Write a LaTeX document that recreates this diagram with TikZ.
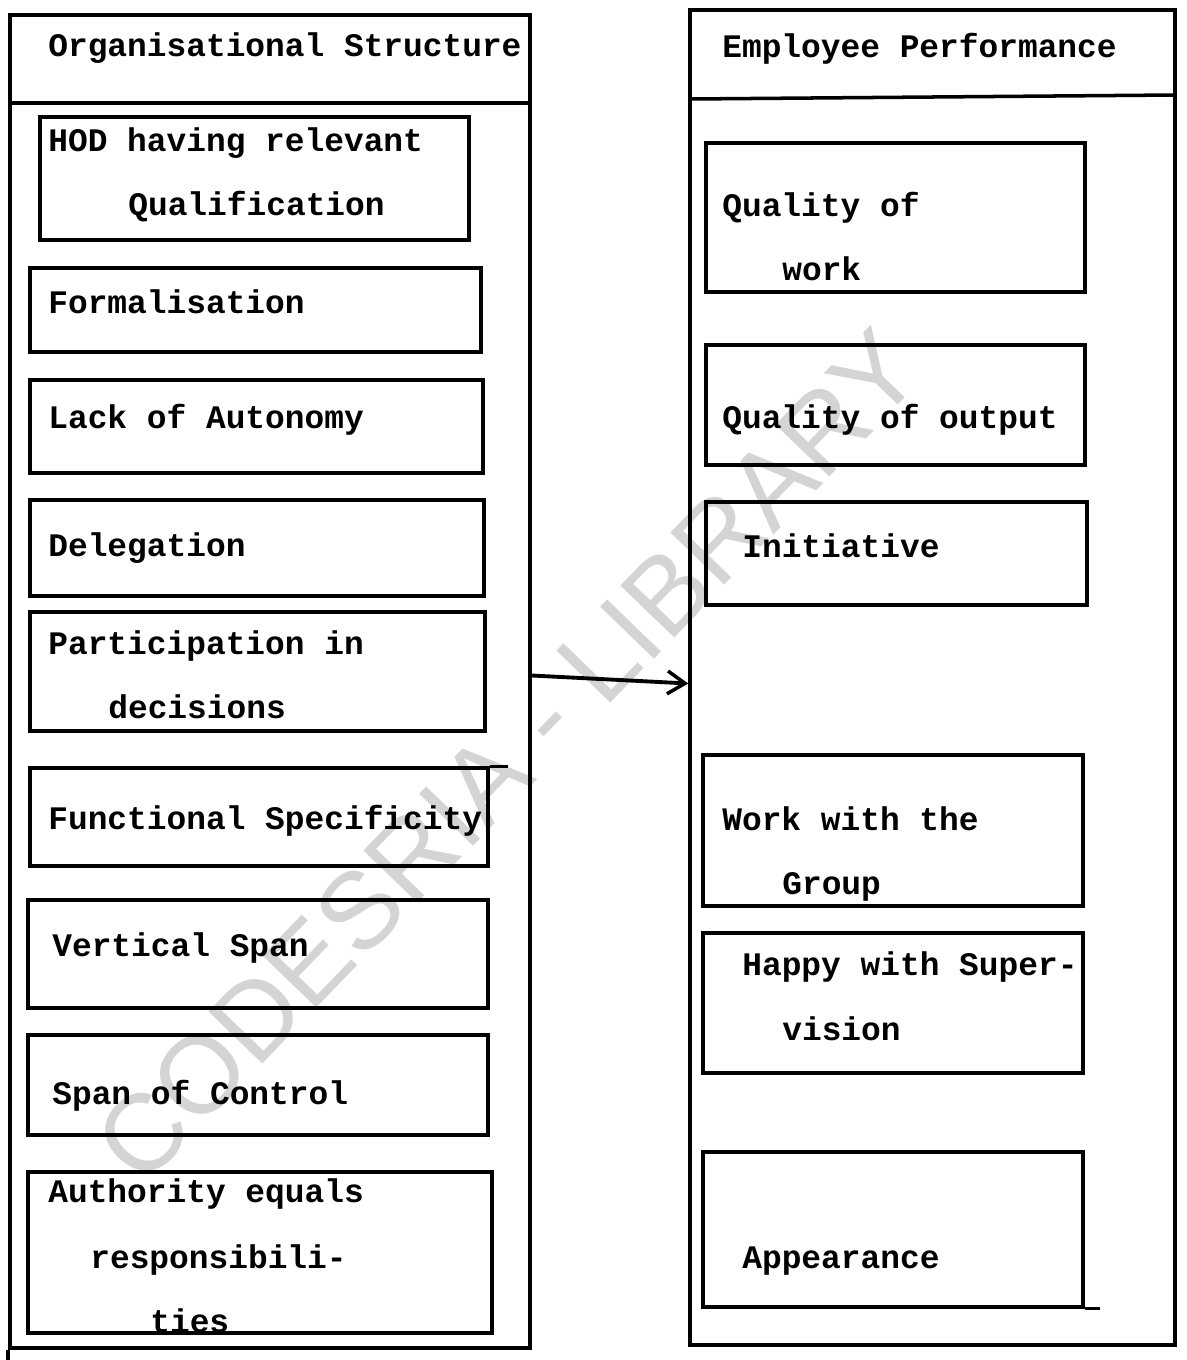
\documentclass[tikz,border=0pt]{standalone}
\usepackage{fontspec}
\setmainfont{Liberation Serif}
\newfontfamily\typewriter{Liberation Mono}
\newfontfamily\stampfont{Liberation Sans}
\usetikzlibrary{fit,arrows.meta}

\begin{document}
\begin{tikzpicture}[x=0.02cm,y=-0.02cm,
  frame/.style={draw, line width=2pt, inner sep=0pt},
  box/.style={draw, line width=1.9pt, inner sep=0pt},
  rule/.style={line width=2pt},
  lbl/.style={anchor=base west, inner sep=0pt,
    font=\typewriter\bfseries\fontsize{18.7pt}{22pt}\selectfont},
  stamp/.style={anchor=base, rotate=46, inner sep=0pt, text=black!17,
    font=\stampfont\fontsize{62pt}{62pt}\selectfont},
  link/.style={line width=2.2pt,
    -{Straight Barb[length=10pt,width=13pt,line width=2pt]}}]

\useasboundingbox (0,0) rectangle (1187,1360);

% library stamp across the page
\node[stamp] (stamp) at (535,782) {CODESRIA - LIBRARY};

% ---------- left column: organisational structure ----------
\node[frame, fit={(10,15) (530,1348)}] (org) {};
\draw[rule] (org.south west) -- ++(0,12);
\draw[rule] (10,103) -- (530,103);
\node[lbl] (orgtitle) at (48,56) {Organisational Structure};

\node[box, fit={(40,117) (469,240)}] (hod) {};
\node[lbl] (hod1) at (48,151) {HOD having relevant};
\node[lbl] (hod2) at (128,215) {Qualification};

\node[box, fit={(30,268) (481,352)}] (form) {};
\node[lbl] (form1) at (48,313) {Formalisation};

\node[box, fit={(30,380) (483,473)}] (auto) {};
\node[lbl] (auto1) at (48,428) {Lack of Autonomy};

\node[box, fit={(30,500) (484,596)}] (dele) {};
\node[lbl] (dele1) at (48,556) {Delegation};

\node[box, fit={(30,612) (485,731)}] (part) {};
\node[lbl] (part1) at (48,654) {Participation in};
\node[lbl] (part2) at (108,718) {decisions};

\node[box, fit={(30,768) (488,866)}] (func) {};
\draw[line width=1.9pt] (func.north east) -- ++(18,0);
\node[lbl] (func1) at (48,829) {Functional Specificity};

\node[box, fit={(28,900) (488,1008)}] (vert) {};
\node[lbl] (vert1) at (52,956) {Vertical Span};

\node[box, fit={(28,1035) (488,1135)}] (span) {};
\node[lbl] (span1) at (52,1104) {Span of Control};

\node[box, fit={(28,1172) (492,1333)}] (auth) {};
\node[lbl] (auth1) at (48,1202) {Authority equals};
\node[lbl] (auth2) at (90,1268) {responsibili-};
\node[lbl] (auth3) at (150,1332) {ties};

% ---------- right column: employee performance ----------
\node[frame, fit={(690,10) (1175,1345)}] (perf) {};
\draw[rule] (690,99) -- (1175,95);
\node[lbl] (perftitle) at (722,57) {Employee Performance};

\node[box, fit={(706,143) (1085,292)}] (qwork) {};
\node[lbl] (qwork1) at (722,216) {Quality of};
\node[lbl] (qwork2) at (782,280) {work};

\node[box, fit={(706,345) (1085,465)}] (qout) {};
\node[lbl] (qout1) at (722,428) {Quality of output};

\node[box, fit={(706,502) (1087,605)}] (init) {};
\node[lbl] (init1) at (742,557) {Initiative};

\node[box, fit={(703,755) (1083,906)}] (group) {};
\node[lbl] (group1) at (722,830) {Work with the};
\node[lbl] (group2) at (782,894) {Group};

\node[box, fit={(703,933) (1083,1073)}] (superv) {};
\node[lbl] (superv1) at (742,975) {Happy with Super-};
\node[lbl] (superv2) at (782,1040) {vision};

\node[box, fit={(703,1152) (1083,1307)}] (appear) {};
\draw[line width=1.9pt] (appear.south east) -- ++(15,0);
\node[lbl] (appear1) at (742,1268) {Appearance};

% ---------- influence arrow ----------
\draw[link] ([yshift=0.12cm]org.east) -- ([yshift=-0.12cm]perf.west);

\end{tikzpicture}
\end{document}
